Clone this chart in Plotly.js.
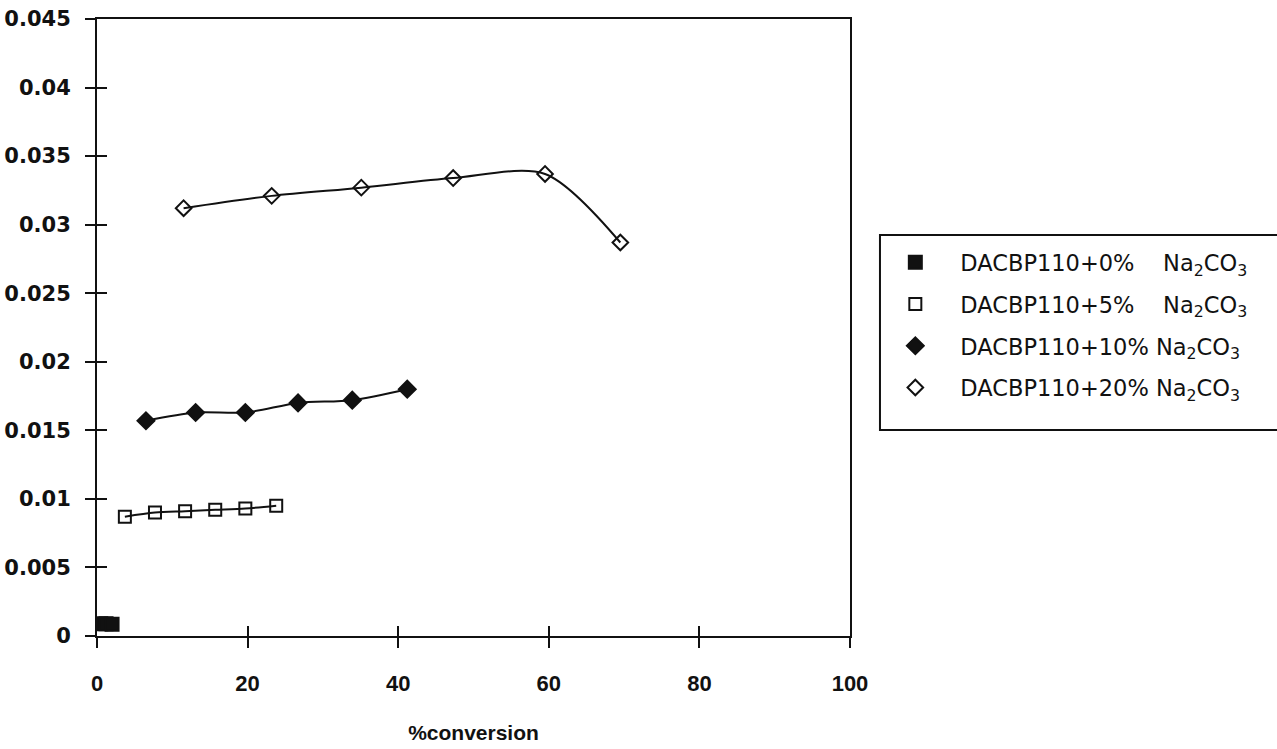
<!DOCTYPE html>
<html>
<head>
<meta charset="utf-8">
<script src="https://cdn.plot.ly/plotly-3.0.1.min.js"></script>
<style>html,body{margin:0;padding:0;background:#fff;}#chart{width:1277px;height:749px;}</style>
</head>
<body>
<div id="chart"></div>
<script>
// ---- data ----
const seriesNames = [
  "DACBP110+0%\u00A0\u00A0\u00A0\u00A0Na<sub>2</sub>CO<sub>3</sub>",
  "DACBP110+5%\u00A0\u00A0\u00A0\u00A0Na<sub>2</sub>CO<sub>3</sub>",
  "DACBP110+10%\u00A0Na<sub>2</sub>CO<sub>3</sub>",
  "DACBP110+20%\u00A0Na<sub>2</sub>CO<sub>3</sub>"
];
const x0 = [0.5, 1.2, 2.0];
const y0 = [0.0009, 0.0009, 0.00085];
const x5 = [3.7, 7.7, 11.7, 15.7, 19.7, 23.8];
const y5 = [0.0087, 0.0090, 0.0091, 0.0092, 0.0093, 0.0095];
const x10 = [6.5, 13.1, 19.7, 26.7, 33.9, 41.2];
const y10 = [0.0157, 0.0163, 0.0163, 0.0170, 0.0172, 0.0180];
const x20 = [11.5, 23.2, 35.1, 47.3, 59.5, 69.5];
const y20 = [0.0312, 0.0321, 0.0327, 0.0334, 0.0337, 0.0287];
const xTicks = [0, 20, 40, 60, 80, 100];
const yTicks = [0, 0.005, 0.01, 0.015, 0.02, 0.025, 0.03, 0.035, 0.04, 0.045];
const xTitle = "%conversion";

const ink = "#111111";
const xs = [x0, x5, x10, x20];
const ys = [y0, y5, y10, y20];
const symbols = ["square", "square-open", "diamond", "diamond-open"];
const sizes = [13, 12, 13, 12];

const traces = [];
// lines (no legend)
for (let i = 0; i < 4; i++) {
  traces.push({
    x: xs[i], y: ys[i], type: "scatter", mode: "lines",
    line: {color: ink, width: 2, shape: "spline", smoothing: 0.85},
    showlegend: false, hoverinfo: "skip"
  });
}
// markers (with legend)
for (let i = 0; i < 4; i++) {
  traces.push({
    x: xs[i], y: ys[i], type: "scatter", mode: "markers",
    name: seriesNames[i], legendgroup: "g" + i,
    marker: {symbol: symbols[i], size: sizes[i], color: ink,
             line: {color: ink, width: 2}}
  });
}
// overlay axes to draw the inward half of the crossing ticks
traces.push({x: [], y: [], xaxis: "x2", yaxis: "y2", showlegend: false, hoverinfo: "skip", type: "scatter"});

const layout = {
  width: 1277, height: 749,
  paper_bgcolor: "#ffffff", plot_bgcolor: "#ffffff",
  margin: {l: 97, r: 427, t: 19, b: 113},
  font: {family: "Liberation Sans, Arial, sans-serif", color: ink},
  xaxis: {
    range: [0, 100], tickvals: xTicks, ticktext: xTicks.map(String),
    showgrid: false, zeroline: false,
    showline: true, linecolor: ink, linewidth: 2, mirror: true,
    ticks: "outside", ticklen: 10, tickwidth: 2, tickcolor: ink,
    ticklabelstandoff: 17,
    tickfont: {family: "Liberation Sans, Arial, sans-serif", size: 22, color: ink, weight: "bold"},
    title: {text: "<b>" + xTitle + "</b>", standoff: 30,
            font: {family: "Liberation Sans, Arial, sans-serif", size: 21, color: ink}}
  },
  yaxis: {
    range: [0, 0.045], tickvals: yTicks, ticktext: yTicks.map(String),
    showgrid: false, zeroline: false,
    showline: true, linecolor: ink, linewidth: 2, mirror: true,
    ticks: "outside", ticklen: 10, tickwidth: 2, tickcolor: ink,
    ticklabelstandoff: 10,
    tickfont: {family: "DejaVu Sans, sans-serif", size: 21, color: ink, weight: "bold"}
  },
  xaxis2: {overlaying: "x", range: [0, 100], tickvals: xTicks, showticklabels: false,
           ticks: "inside", ticklen: 10, tickwidth: 2, tickcolor: ink,
           showgrid: false, zeroline: false, showline: false, side: "bottom", anchor: "y2"},
  yaxis2: {overlaying: "y", range: [0, 0.045], tickvals: yTicks, showticklabels: false,
           ticks: "inside", ticklen: 10, tickwidth: 2, tickcolor: ink,
           showgrid: false, zeroline: false, showline: false, side: "left", anchor: "x2"},
  legend: {
    x: 1.027, y: 0.64, xanchor: "left", yanchor: "top",
    bgcolor: "rgba(0,0,0,0)", borderwidth: 0,
    itemwidth: 80, tracegroupgap: 9.5,
    font: {family: "DejaVu Sans, sans-serif", size: 22.5, color: ink}
  },
  shapes: [{
    type: "rect", xref: "paper", yref: "paper",
    x0: 1.0398, x1: 1.6, y0: 0.334, y1: 0.65,
    line: {color: ink, width: 2}, fillcolor: "rgba(0,0,0,0)"
  }]
};

Plotly.newPlot("chart", traces, layout, {displayModeBar: false, staticPlot: true});
</script>
</body>
</html>
